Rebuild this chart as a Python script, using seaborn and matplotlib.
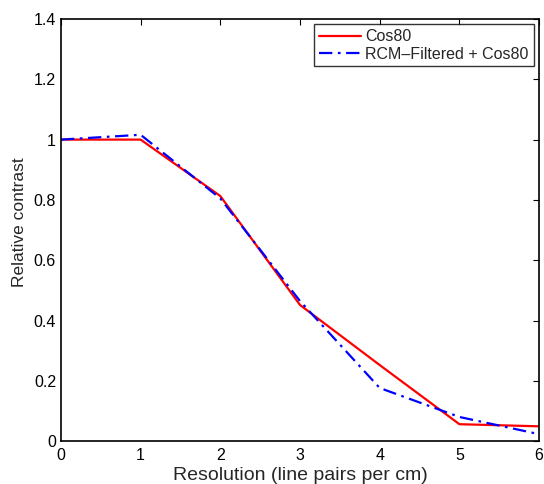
import seaborn as sns
import matplotlib.pyplot as plt
import pandas as pd

# dati
resolution = [0, 1, 2, 3, 4, 5, 6]
cos80 = [1.0, 1.0, 0.813, 0.452, 0.253, 0.057, 0.050]
rcm_cos80 = [1.0, 1.016, 0.805, 0.465, 0.177, 0.081, 0.024]
series_names = ['Cos80', 'RCM\u2013Filtered + Cos80']

df = pd.DataFrame({
    'x': resolution * 2,
    'y': cos80 + rcm_cos80,
    'serie': [series_names[0]] * len(resolution) + [series_names[1]] * len(resolution),
})

sns.set_style('white')
plt.rcParams['font.family'] = ['Liberation Sans', 'DejaVu Sans']

fig = plt.figure(figsize=(5.44, 4.84), dpi=100)
ax = fig.add_axes([0.112, 0.088, 0.879, 0.873])

sns.lineplot(data=df, x='x', y='y', hue='serie', style='serie',
             palette=['#ff0000', '#0000ff'],
             dashes=['', (6, 2.5, 1.2, 2.5)],
             linewidth=1.6, ax=ax)

ax.set_xlim(0, 6)
ax.set_ylim(0, 1.4)
ax.set_xticks(range(0, 7))
ax.set_xticklabels([str(v) for v in range(0, 7)])
ax.set_yticks([0, 0.2, 0.4, 0.6, 0.8, 1.0, 1.2, 1.4])
ax.set_yticklabels(['0', '0.2', '0.4', '0.6', '0.8', '1', '1.2', '1.4'])
ax.tick_params(direction='in', top=True, right=True, length=4, width=0.8,
               labelsize=11.5, colors='black')
ax.tick_params(axis='x', pad=5)
ax.tick_params(axis='y', pad=3.5)
for s in ax.spines.values():
    s.set_color('black')
    s.set_linewidth(1.2)

ax.set_xlabel('Resolution (line pairs per cm)', fontsize=14, labelpad=2.5)
ax.set_ylabel('Relative contrast', fontsize=12.5)
ax.yaxis.set_label_coords(-0.07, 0.52)

leg = ax.legend(loc='upper right', fontsize=11.5, frameon=True, fancybox=False,
                edgecolor='black', borderaxespad=0.35, handlelength=2.6,
                borderpad=0.3, labelspacing=0.15, handletextpad=0.3)
leg.get_frame().set_linewidth(1.0)

fig.savefig('out.png', dpi=100)
